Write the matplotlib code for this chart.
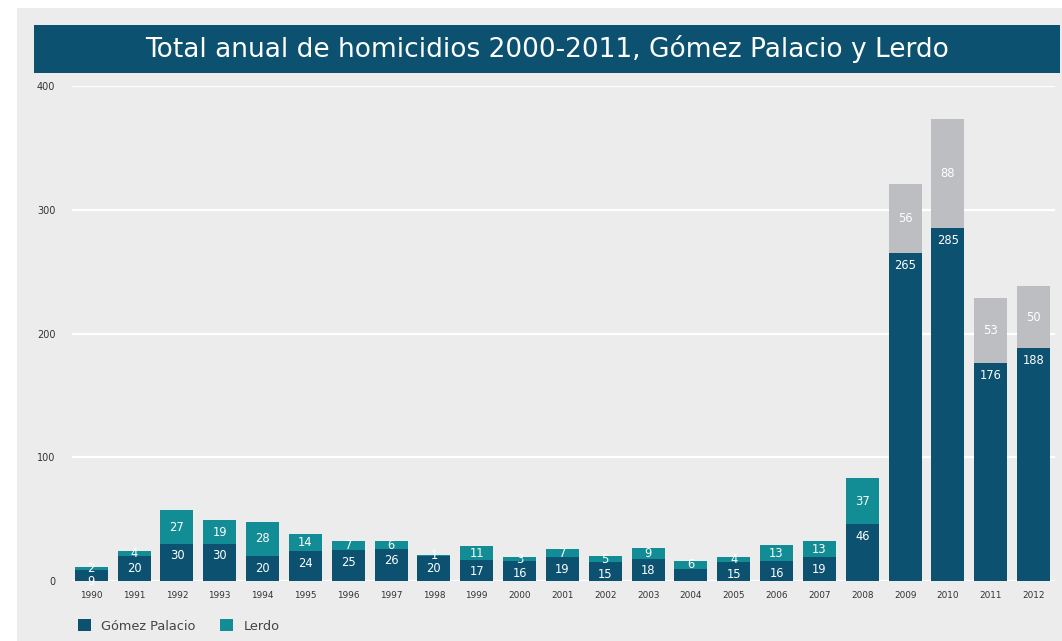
import matplotlib
matplotlib.use("Agg")
import matplotlib.pyplot as plt
from matplotlib.patches import Rectangle

# data
years = ["1990", "1991", "1992", "1993", "1994", "1995", "1996", "1997", "1998",
         "1999", "2000", "2001", "2002", "2003", "2004", "2005", "2006", "2007",
         "2008", "2009", "2010", "2011", "2012"]
gomez = [9, 20, 30, 30, 20, 24, 25, 26, 20, 17, 16, 19, 15, 18, 10, 15, 16, 19,
         46, 265, 285, 176, 188]
lerdo = [2, 4, 27, 19, 28, 14, 7, 6, 1, 11, 3, 7, 5, 9, 6, 4, 13, 13,
         37, 56, 88, 53, 50]
gray_years = ["2009", "2010", "2011", "2012"]
hidden_labels = ["2004"]  # gomez label not printed in the source
y_ticks = [0, 100, 200, 300, 400]

title = "Total anual de homicidios 2000-2011, Gómez Palacio y Lerdo"

DARK = "#0C5270"
TEAL = "#138D95"
GRAY = "#BDBEC2"
PANEL = "#ECECEC"

plt.rcParams["font.family"] = ["DejaVu Sans"]

W, H = 1062, 641
fig = plt.figure(figsize=(W / 100, H / 100), dpi=100)
fig.patch.set_facecolor("white")

# grey panel + title band, kept behind the axes
fig.patches.append(Rectangle((17 / W, 0), 1, 1 - 8 / H, transform=fig.transFigure,
                             facecolor=PANEL, edgecolor="none", zorder=-2))
fig.patches.append(Rectangle((34 / W, 1 - 73 / H), (1060 - 34) / W, 48 / H,
                             transform=fig.transFigure, facecolor=DARK,
                             edgecolor="none", zorder=-1))
fig.text(547 / W, 1 - 49 / H, title, color="white", fontsize=19,
         ha="center", va="center")

ax = fig.add_axes([72 / W, 1 - 581 / H, (1055 - 72) / W, (581 - 86) / H])
ax.set_facecolor("none")

x = list(range(len(years)))
lerdo_colors = [GRAY if y in gray_years else TEAL for y in years]

b1 = ax.bar(x, gomez, width=0.77, color=DARK, label="Gómez Palacio", zorder=3)
b2 = ax.bar(x, lerdo, width=0.77, bottom=gomez, color=lerdo_colors,
            label="Lerdo", zorder=3)

for xi, y, g, l in zip(x, years, gomez, lerdo):
    if y not in hidden_labels:
        ax.annotate(str(g), (xi, g), xytext=(0, -8.6), textcoords="offset points",
                    ha="center", va="center", color="white", fontsize=8.3, zorder=4)
    ax.text(xi, g + l / 2, str(l), ha="center", va="center", color="white",
            fontsize=8.3, zorder=4)

ax.set_xlim(-0.45, 22.5)
ax.set_ylim(0, 400)
ax.set_yticks(y_ticks)
ax.set_xticks(x)
ax.set_xticklabels(years)
ax.tick_params(length=0, labelcolor="#333333")
ax.tick_params(axis="y", pad=12, labelsize=7)
ax.tick_params(axis="x", pad=7, labelsize=6.4)
ax.grid(axis="y", color="white", linewidth=1.6)
ax.set_axisbelow(True)
for s in ax.spines.values():
    s.set_visible(False)

ax.legend(handles=[b1, b2], loc="center left",
          bbox_to_anchor=(78 / W, 1 - 626 / H), bbox_transform=fig.transFigure,
          ncol=2, frameon=False, fontsize=9.3, labelcolor="#444444",
          handlelength=1.0, handleheight=1.0, handletextpad=0.8,
          columnspacing=1.9, borderpad=0, borderaxespad=0)

fig.savefig("out.png", dpi=100, facecolor=fig.get_facecolor())
